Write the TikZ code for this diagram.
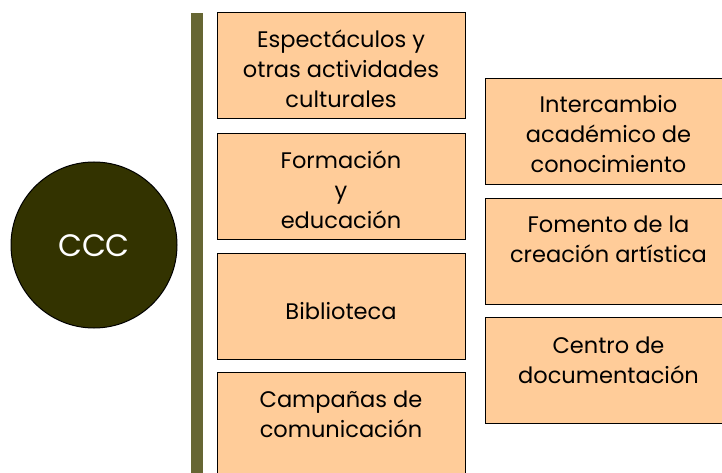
\documentclass[tikz,border=0pt]{standalone}
\usepackage{fontspec}
\setmainfont{Poppins}
\definecolor{peach}{HTML}{FFCC99}
\definecolor{olivedark}{HTML}{333300}
\definecolor{olivebar}{HTML}{666633}
\begin{document}
\begin{tikzpicture}[x=1pt,y=-1pt,
  box/.style={draw=black, line width=1.3pt, fill=peach, minimum width=248pt, minimum height=106pt, inner sep=0pt, anchor=north west},
  txt/.style={align=center, inner sep=0pt, font=\fontsize{22.5}{30}\selectfont},
  hub/.style={circle, draw=black, line width=1pt, fill=olivedark, minimum size=166pt, inner sep=0pt}]
\useasboundingbox (0,0) rectangle (722,473);
\fill[olivebar] (191,13) rectangle (203,480);
\node[hub] (ccc) at (94,245) {};
\node[txt, text=white, font=\fontsize{31}{30}\selectfont] (ccct) at (94,246) {CCC};
% left column
\node[box] (b1) at (217,12) {};
\node[box] (b2) at (217,133) {};
\node[box] (b3) at (217,253) {};
\node[box, minimum height=120pt] (b4) at (217,372) {};
% right column
\node[box] (r1) at (485,78) {};
\node[box] (r2) at (485,198) {};
\node[box] (r3) at (485,317) {};
% texts
\node[txt] (t1) at (341,68.5) {Espectáculos y\\otras actividades\\culturales};
\node[txt] (t2) at (341,190) {Formación\\y\\educación};
\node[txt] (t3) at (341,311) {Biblioteca};
\node[txt] (t4) at (341,414) {Campañas de\\comunicación};
\node[txt] (t5) at (608.5,134.5) {Intercambio\\académico de\\conocimiento};
\node[txt] (t6) at (608.5,239) {Fomento de la\\creación artística};
\node[txt] (t7) at (608.5,360) {Centro de\\documentación};
\end{tikzpicture}
\end{document}
